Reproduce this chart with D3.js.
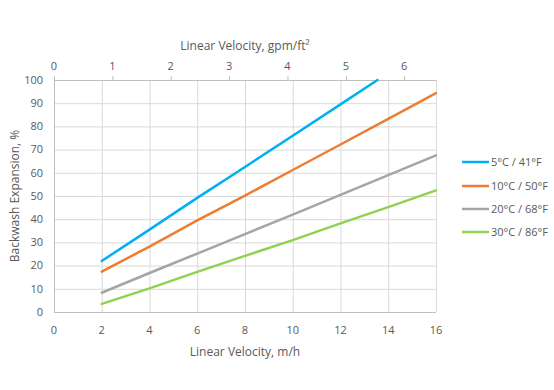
<!DOCTYPE html>
<html><head><meta charset="utf-8">
<script src="https://cdn.jsdelivr.net/npm/d3@7"></script>
<style>body{margin:0;background:#fff;} text{font-family:"Open Sans","Noto Sans",sans-serif;}</style>
</head><body><svg id="c" width="554" height="390"></svg>
<script>
const seriesNames = ["5°C / 41°F","10°C / 50°F","20°C / 68°F","30°C / 86°F"];
const seriesColors = ["#00b0f0","#ed7d31","#a5a5a5","#92d050"];
const velocityMH = [2,4,6,8,10,12,13.55,14,16];
const s5  = [[2,22],[4,35.5],[6,49.2],[8,62.5],[10,76],[12,89.5],[13.55,100]];
const s10 = [[2,17.4],[4,28.2],[6,39.5],[8,50.2],[10,61.2],[12,72.2],[14,83.2],[16,94.3]];
const s20 = [[2,8.3],[4,16.8],[6,25.2],[8,33.6],[10,42],[12,50.5],[14,59],[16,67.5]];
const s30 = [[2,3.5],[4,10.2],[6,17.3],[8,24.2],[10,31],[12,38.2],[14,45.2],[16,52.4]];
const xTicks = [0,2,4,6,8,10,12,14,16];
const yTicks = [0,10,20,30,40,50,60,70,80,90,100];
const topTicks = [0,1,2,3,4,5,6];
const gpmPerMH = 1/2.445;

const svg = d3.select("#c");
const L=54, R=436, T=80, B=312;
const x = d3.scaleLinear().domain([0,16]).range([L,R]);
const y = d3.scaleLinear().domain([0,100]).range([B,T]);
const xTop = d3.scaleLinear().domain([0,16*gpmPerMH]).range([L,R]);

const g = svg.append("g");
// grid
g.selectAll(".hg").data(yTicks).join("line").attr("x1",L).attr("x2",R)
 .attr("y1",d=>y(d)+0.5).attr("y2",d=>y(d)+0.5).attr("stroke","#d9d9d9").attr("stroke-width",1);
g.selectAll(".vg").data(xTicks).join("line").attr("y1",T).attr("y2",B)
 .attr("x1",d=>x(d)+0.5).attr("x2",d=>x(d)+0.5).attr("stroke","#d9d9d9").attr("stroke-width",1);
// axes lines
g.append("line").attr("x1",L+0.5).attr("x2",L+0.5).attr("y1",T).attr("y2",B).attr("stroke","#bfbfbf");
g.append("line").attr("x1",L).attr("x2",R).attr("y1",B+0.5).attr("y2",B+0.5).attr("stroke","#bfbfbf");
g.append("line").attr("x1",L).attr("x2",R+0.5).attr("y1",T+0.5).attr("y2",T+0.5).attr("stroke","#bfbfbf");
// top ticks
g.selectAll(".tt").data(topTicks).join("line").attr("x1",d=>xTop(d)+0.5).attr("x2",d=>xTop(d)+0.5)
 .attr("y1",T-4).attr("y2",T).attr("stroke","#bfbfbf");
// tick labels
const tc="#595959";
g.selectAll(".yl").data(yTicks).join("text").attr("x",43).attr("y",d=>y(d)).attr("dy","0.35em")
 .attr("text-anchor","end").attr("font-size",11).attr("fill",tc).text(d=>d);
g.selectAll(".xl").data(xTicks).join("text").attr("x",d=>x(d)).attr("y",330).attr("dy","0.35em")
 .attr("text-anchor","middle").attr("font-size",11).attr("fill",tc).text(d=>d);
g.selectAll(".tl").data(topTicks).join("text").attr("x",d=>xTop(d)).attr("y",66).attr("dy","0.35em")
 .attr("text-anchor","middle").attr("font-size",11).attr("fill",tc).text(d=>d);
// titles
g.append("text").attr("x",245).attr("y",46).attr("dy","0.35em").attr("text-anchor","middle")
 .attr("font-size",12).attr("fill",tc).text("Linear Velocity, gpm/ft²");
g.append("text").attr("x",245).attr("y",352).attr("dy","0.35em").attr("text-anchor","middle")
 .attr("font-size",12).attr("fill",tc).text("Linear Velocity, m/h");
g.append("text").attr("transform","translate(15,196) rotate(-90)").attr("dy","0.35em").attr("text-anchor","middle")
 .attr("font-size",12).attr("fill",tc).text("Backwash Expansion, %");
// lines
const all=[s5,s10,s20,s30];
const line=d3.line().x(d=>x(d[0])).y(d=>y(d[1]));
all.forEach((s,i)=>{
  g.append("path").attr("d",line(s)).attr("fill","none").attr("stroke",seriesColors[i])
   .attr("stroke-width",2.5).attr("stroke-linecap","round");
});
// legend
const ly=[162,186,209,232];
seriesNames.forEach((n,i)=>{
  g.append("line").attr("x1",462).attr("x2",489).attr("y1",ly[i]).attr("y2",ly[i])
   .attr("stroke",seriesColors[i]).attr("stroke-width",2.5);
  g.append("text").attr("x",491).attr("y",ly[i]).attr("dy","0.35em").attr("font-size",11)
   .attr("fill",tc).text(n);
});
</script></body></html>
